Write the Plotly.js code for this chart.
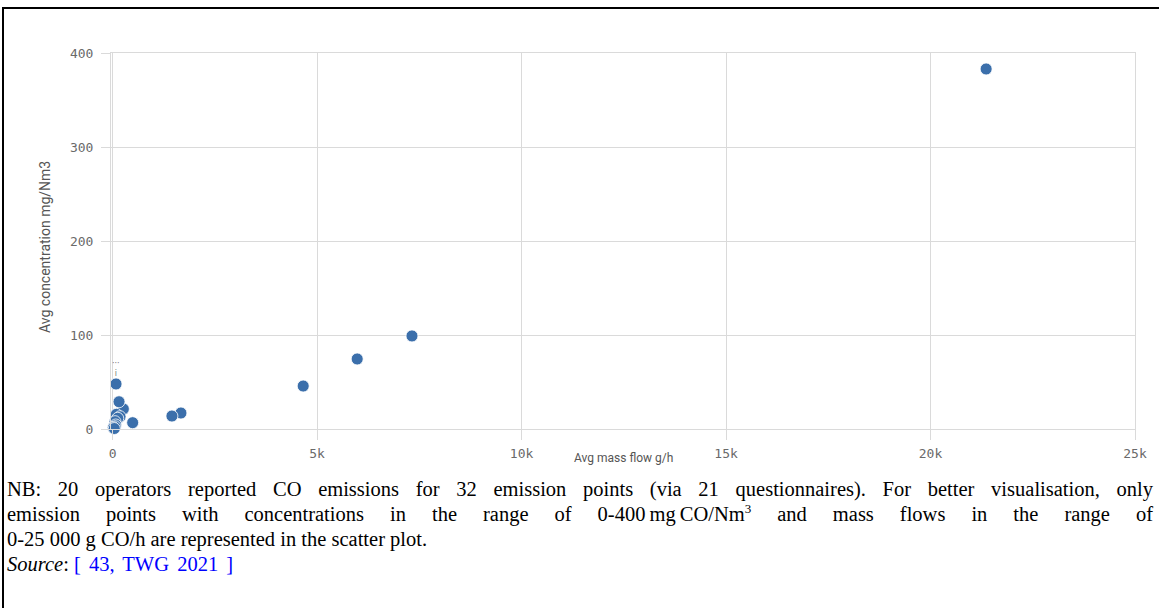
<!DOCTYPE html>
<html>
<head>
<meta charset="utf-8">
<script src="https://cdn.plot.ly/plotly-3.0.1.min.js"></script>
<style>
  html, body { margin: 0; padding: 0; background: #fff; }
  #wrap { position: relative; width: 1159px; height: 608px; overflow: hidden; }
  #frame { position: absolute; left: 2px; top: 7px; width: 1160px; height: 610px;
           border-top: 2px solid #000; border-left: 2px solid #000; box-sizing: border-box; }
  #chart { position: absolute; left: 0; top: 0; width: 1159px; height: 608px; }
  #note { position: absolute; left: 7px; top: 477px; width: 1146px;
          font-family: "Liberation Serif", "Times New Roman", serif; font-size: 20.5px;
          line-height: 25px; color: #000; }
  .j { text-align: justify; text-align-last: justify; }
  sup { font-size: 13px; line-height: 0; vertical-align: 8px; }
  .src { color: #0000ff; word-spacing: 3px; }
</style>
</head>
<body>
<div id="wrap">
  <div id="chart"></div>
  <div id="frame"></div>
  <div id="note">
    <div class="j">NB: 20 operators reported CO emissions for 32 emission points (via 21 questionnaires). For better visualisation, only</div>
    <div class="j">emission points with concentrations in the range of 0-400&#8239;mg&#8239;CO/Nm<sup>3</sup> and mass flows in the range of</div>
    <div>0-25 000 g CO/h are represented in the scatter plot.</div>
    <div><i>Source</i>: <span class="src">[ 43, TWG 2021 ]</span></div>
  </div>
</div>
<script>
// Avg mass flow (g/h) and avg concentration (mg/Nm3) per emission point
const massFlow = [21360, 7320, 5980, 4660, 1670, 1450, 490, 262, 156, 83, 90, 181, 125, 59, 76, 60, 17, 40];
const concentration = [383, 99, 74.5, 45.7, 17, 13.8, 6.7, 21.3, 29, 47.9, 15.6, 13.1, 11.4, 7.8, 4.3, 2.4, 1.4, 0.5];

const xTickVals = [0, 5000, 10000, 15000, 20000, 25000];
const xTickText = ['0', '5k', '10k', '15k', '20k', '25k'];
const yTickVals = [0, 100, 200, 300, 400];
const yTickText = ['0', '100', '200', '300', '400'];

const xTitle = 'Avg mass flow g/h';
const yTitle = 'Avg concentration mg/Nm3';

// index of the point carrying the truncated data label
const labelIdx = 9;

const gridCol = '#dadada';
const tickFont = { family: 'DejaVu Sans Mono, monospace', size: 13, color: '#6a6a6a' };
const titleFont = { family: 'Roboto, sans-serif', size: 12, color: '#555555' };

const trace = {
  type: 'scatter',
  mode: 'markers',
  x: massFlow,
  y: concentration,
  marker: { size: 12, color: '#3b6fab', line: { color: '#ffffff', width: 0.8 } },
  hoverinfo: 'x+y',
  cliponaxis: false
};

const layout = {
  width: 1159,
  height: 608,
  margin: { l: 111, r: 24, t: 53, b: 179 },
  paper_bgcolor: 'rgba(0,0,0,0)',
  plot_bgcolor: '#ffffff',
  showlegend: false,
  xaxis: {
    range: [-40, 25000],
    tickvals: xTickVals,
    ticktext: xTickText,
    showgrid: true,
    gridcolor: gridCol,
    gridwidth: 1,
    zeroline: false,
    showline: true,
    linecolor: gridCol,
    linewidth: 1,
    mirror: true,
    ticks: 'outside',
    ticklen: 10,
    tickcolor: gridCol,
    tickfont: tickFont,
    ticklabelstandoff: 2,
    fixedrange: true
  },
  yaxis: {
    range: [0, 400],
    tickvals: yTickVals,
    ticktext: yTickText,
    showgrid: true,
    gridcolor: gridCol,
    gridwidth: 1,
    zeroline: false,
    showline: true,
    linecolor: gridCol,
    linewidth: 1,
    mirror: true,
    ticks: 'outside',
    ticklen: 9,
    tickcolor: gridCol,
    tickfont: tickFont,
    ticklabelstandoff: 5,
    fixedrange: true
  },
  annotations: [
    {
      text: xTitle, xref: 'paper', yref: 'paper', x: 0.5, y: 0,
      xanchor: 'center', yanchor: 'middle', yshift: -29, showarrow: false,
      font: titleFont
    },
    {
      text: yTitle, xref: 'paper', yref: 'paper', x: 0, y: 0.5,
      xanchor: 'center', yanchor: 'middle', xshift: -66, yshift: -6, textangle: -90,
      showarrow: false, font: { family: 'Roboto, sans-serif', size: 14, color: '#555555' }
    },
    {
      x: massFlow[labelIdx], y: concentration[labelIdx], xref: 'x', yref: 'y',
      text: '\u00B7\u00B7\u00B7<br>i', showarrow: false, yshift: 15, xshift: 0,
      font: { family: 'DejaVu Sans, sans-serif', size: 8, color: '#777777' },
      align: 'center'
    }
  ]
};

Plotly.newPlot('chart', [trace], layout, { displayModeBar: false, staticPlot: true });
</script>
</body>
</html>
